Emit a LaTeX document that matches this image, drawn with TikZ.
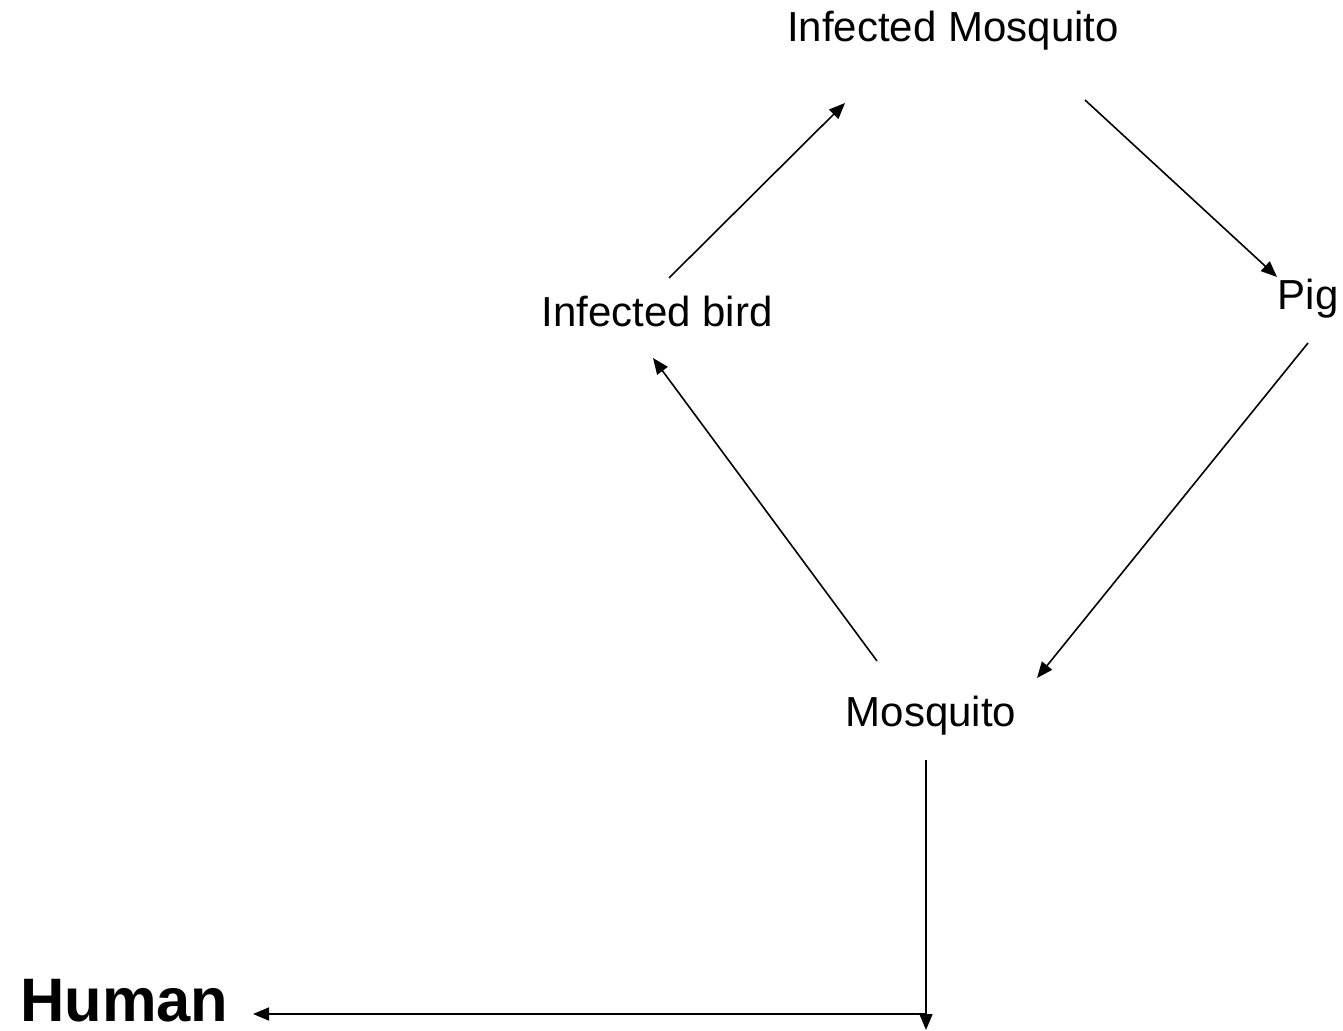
\documentclass[tikz,border=0pt]{standalone}
\usepackage{fontspec}
\setmainfont{Liberation Sans}
\usetikzlibrary{arrows.meta}
\begin{document}
\begin{tikzpicture}[x=0.5pt,y=-0.5pt,
  lbl/.style={inner sep=0pt,anchor=base,font=\fontsize{21pt}{25pt}\selectfont},
  big/.style={inner sep=0pt,anchor=base west,font=\fontsize{30.7pt}{36pt}\selectfont\bfseries},
  arr/.style={line width=0.8pt,-{Triangle[length=8pt,width=6.5pt]}}]
\useasboundingbox (0,0) rectangle (1343,1031);
\node[lbl] (im) at (953,42) {Infected Mosquito};
\node[lbl] (bird) at (657,327) {Infected bird};
\node[lbl] (pig) at (1308,310) {Pig};
\node[lbl] (mosq) at (931,726) {Mosquito};
\node[big] (human) at (20,1021) {Human};
\coordinate (b1) at (669,278);
\coordinate (b2) at (845,103);
\coordinate (p1) at (1085,100);
\coordinate (p2) at (1277,277);
\coordinate (m1) at (1308,343);
\coordinate (m2) at (1037,678);
\coordinate (k1) at (877,661);
\coordinate (k2) at (653,358);
\coordinate (v1) at (926,760);
\coordinate (v2) at (926,1030);
\coordinate (h1) at (926,1014);
\coordinate (h2) at (253,1014);
\draw[arr] (b1) -- (b2);
\draw[arr] (p1) -- (p2);
\draw[arr] (m1) -- (m2);
\draw[arr] (k1) -- (k2);
\draw[arr] (v1) -- (v2);
\draw[arr] (h1) -- (h2);
\end{tikzpicture}
\end{document}
